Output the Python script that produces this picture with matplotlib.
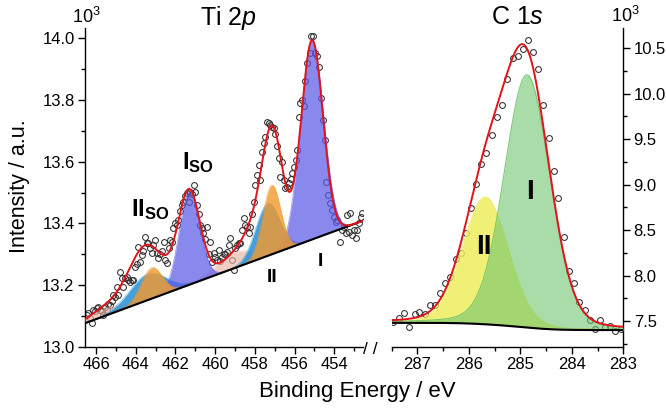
import numpy as np
import matplotlib
matplotlib.use('Agg')
import matplotlib.pyplot as plt
from matplotlib.ticker import MultipleLocator, FormatStrFormatter

plt.rcParams['font.family'] = ['Liberation Sans', 'DejaVu Sans']
plt.rcParams['mathtext.fontset'] = 'custom'
plt.rcParams['mathtext.rm'] = 'Liberation Sans'
plt.rcParams['mathtext.it'] = 'Liberation Sans:italic'
plt.rcParams['mathtext.bf'] = 'Liberation Sans:bold'

# ---------------- Ti 2p data (x: binding energy eV, y: intensity x10^3) ----------------
ti_x = [466.47, 466.39, 466.30, 466.22, 466.14, 466.05, 465.97, 465.89, 465.80, 465.72,
        465.64, 465.55, 465.46, 465.38, 465.30, 465.21, 465.13, 465.04, 464.96, 464.88,
        464.79, 464.71, 464.63, 464.54, 464.45, 464.37, 464.29, 464.20, 464.12, 464.03,
        463.95, 463.87, 463.78, 463.70, 463.62, 463.53, 463.45, 463.36, 463.28, 463.19,
        463.11, 463.03, 462.94, 462.86, 462.77, 462.69, 462.60, 462.52, 462.44, 462.35,
        462.27, 462.18, 462.10, 462.01, 461.93, 461.85, 461.76, 461.68, 461.60, 461.51,
        461.42, 461.34, 461.26, 461.17, 461.09, 461.00, 460.92, 460.84, 460.75, 460.67,
        460.59, 460.50, 460.41, 460.33, 460.25, 460.16, 460.08, 459.99, 459.91, 459.83,
        459.74, 459.66, 459.57, 459.49, 459.40, 459.32, 459.24, 459.15, 459.07, 458.98,
        458.90, 458.82, 458.73, 458.65, 458.57, 458.48, 458.40, 458.31, 458.23, 458.14,
        458.06, 457.97, 457.89, 457.80, 457.72, 457.63, 457.55, 457.47, 457.38, 457.30,
        457.22, 457.13, 457.05, 456.96, 456.88, 456.80, 456.71, 456.63, 456.54, 456.46,
        456.37, 456.29, 456.20, 456.12, 456.04, 455.95, 455.87, 455.79, 455.70, 455.62,
        455.53, 455.45, 455.36, 455.23, 455.16, 455.07, 454.98, 454.88, 454.78, 454.68,
        454.57, 454.48, 454.39, 454.30, 454.22, 454.10, 454.01, 453.93, 453.85, 453.72,
        453.63, 453.51, 453.42, 453.34, 453.26, 453.18, 453.09, 453.01, 452.92, 452.84,
        452.76, 452.67, 452.59]
ti_y = [13.105, 13.110, 13.095, 13.077, 13.120, 13.115, 13.125, 13.131, 13.120, 13.115,
        13.104, 13.128, 13.120, 13.140, 13.136, 13.150, 13.170, 13.163, 13.195, 13.168,
        13.244, 13.222, 13.195, 13.222, 13.228, 13.217, 13.210, 13.217, 13.217, 13.260,
        13.270, 13.325, 13.276, 13.298, 13.310, 13.357, 13.336, 13.336, 13.320, 13.304,
        13.330, 13.347, 13.304, 13.287, 13.300, 13.310, 13.341, 13.282, 13.271, 13.320,
        13.347, 13.340, 13.385, 13.400, 13.395, 13.410, 13.440, 13.460, 13.470, 13.490,
        13.498, 13.471, 13.503, 13.495, 13.525, 13.503, 13.460, 13.430, 13.395, 13.384,
        13.368, 13.350, 13.390, 13.300, 13.341, 13.276, 13.304, 13.290, 13.282, 13.314,
        13.280, 13.290, 13.300, 13.300, 13.309, 13.330, 13.352, 13.282, 13.250, 13.320,
        13.330, 13.336, 13.336, 13.380, 13.417, 13.395, 13.390, 13.368, 13.390, 13.430,
        13.470, 13.525, 13.557, 13.590, 13.541, 13.630, 13.660, 13.681, 13.730, 13.725,
        13.719, 13.714, 13.708, 13.690, 13.650, 13.611, 13.552, 13.600, 13.540, 13.514,
        13.519, 13.530, 13.545, 13.562, 13.584, 13.606, 13.638, 13.746, 13.790, 13.800,
        13.780, 13.860, 13.919, 13.951, 14.007, 14.007, 13.951, 13.943, 13.908, 13.806,
        13.735, 13.670, 13.535, 13.492, 13.466, 13.444, 13.420, 13.406, 13.410, 13.341,
        13.380, 13.390, 13.370, 13.428, 13.373, 13.433, 13.363, 13.379, 13.352, 13.380,
        13.400, 13.420, 13.433]

# linear background end points
ti_bg_x = [466.56, 452.55]
ti_bg_y = [13.077, 13.409]

# fitted components: centre, height above background, sigma
ti_comp_names   = ['sat_so', 'sat', 'II_so_b', 'II_b', 'I_so', 'I', 'II_so', 'II']
ti_comp_centre  = [465.6, 459.0, 463.4, 457.35, 461.30, 455.12, 463.20, 457.15]
ti_comp_height  = [0.025, 0.050, 0.085, 0.170, 0.300, 0.645, 0.100, 0.224]
ti_comp_sigma   = [0.80, 0.90, 0.90, 0.60, 0.52, 0.58, 0.53, 0.45]
ti_comp_color   = ['#e8b4a4', '#e8b4a4', '#2f95d6', '#2f95d6', '#5a5ae6', '#5a5ae6', '#f29a30', '#f29a30']

# envelope (fit sum) peaks
ti_env_centre = [455.12, 457.10, 457.60, 459.00, 461.32, 463.50, 465.60]
ti_env_height = [0.645, 0.310, 0.120, 0.035, 0.300, 0.180, 0.025]
ti_env_sigma  = [0.55, 0.50, 0.80, 1.00, 0.55, 0.88, 0.80]

# ---------------- C 1s data ----------------
c_x = [287.47, 287.36, 287.27, 287.16, 287.05, 286.96, 286.86, 286.76, 286.66, 286.57,
       286.46, 286.37, 286.26, 286.16, 286.06, 285.96, 285.86, 285.76, 285.66, 285.55,
       285.45, 285.35, 285.26, 285.15, 285.05, 284.95, 284.86, 284.75, 284.65, 284.56,
       284.45, 284.35, 284.26, 284.15, 284.06, 283.95, 283.86, 283.75, 283.65, 283.55,
       283.45, 283.36, 283.26, 283.17, 283.05]
c_y = [7.492, 7.530, 7.590, 7.430, 7.577, 7.602, 7.574, 7.673, 7.676, 7.812,
       7.915, 7.988, 8.183, 8.246, 8.473, 8.748, 9.003, 9.230, 9.350, 9.541,
       9.739, 9.879, 10.162, 10.393, 10.410, 10.495, 10.595, 10.455, 10.272, 9.879,
       9.512, 9.155, 8.851, 8.428, 8.050, 7.920, 7.713, 7.621, 7.511, 7.409,
       7.511, 7.437, 7.445, 7.393, 7.409]

# components: centre, height, FWHM, Lorentzian fraction
c_comp_names  = ['II', 'I']
c_comp_centre = [285.68, 284.87]
c_comp_height = [1.40, 2.78]
c_comp_fwhm   = [1.05, 1.05]
c_comp_eta    = [0.12, 0.15]
c_comp_color  = ['#eeee5e', '#6cc46c']
c_comp_alpha  = [0.85, 0.58]
c_bg_high = 7.48   # background level on high-BE side
c_bg_low = 7.40    # background level on low-BE side


def gauss(x, c, h, s):
    return h * np.exp(-(x - c) ** 2 / (2 * s * s))


def pvoigt(x, c, h, f, eta):
    u = (x - c) / f
    return h * (eta / (1 + 4 * u * u) + (1 - eta) * np.exp(-4 * np.log(2) * u * u))


fig = plt.figure(figsize=(6.66, 4.08), dpi=100)
W, H = 666.0, 408.0
axL = fig.add_axes([85 / W, 1 - 347 / H, 278 / W, (347 - 28.3) / H])
axR = fig.add_axes([391.7 / W, 1 - 347 / H, 231.6 / W, (347 - 28.3) / H])

# ---------------- left panel ----------------
xl = np.linspace(ti_bg_x[0], ti_bg_x[1], 800)
bg = ti_bg_y[0] + (xl - ti_bg_x[0]) * (ti_bg_y[1] - ti_bg_y[0]) / (ti_bg_x[1] - ti_bg_x[0])

axL.plot(ti_x, ti_y, 'o', mfc='none', mec='#303030', ms=4.2, mew=0.75, zorder=2)
alphas = {'#e8b4a4': 0.65, '#2f95d6': 0.9, '#5a5ae6': 0.72, '#f29a30': 0.82}
for c, h, s, col in zip(ti_comp_centre, ti_comp_height, ti_comp_sigma, ti_comp_color):
    comp = gauss(xl, c, h, s)
    axL.fill_between(xl, bg, bg + comp, color=col, alpha=alphas[col], lw=0, zorder=3)
    axL.plot(xl, bg + comp, color=col, lw=0.6, alpha=0.6, zorder=3)
env = bg.copy()
for c, h, s in zip(ti_env_centre, ti_env_height, ti_env_sigma):
    env = env + gauss(xl, c, h, s)
axL.plot(xl, bg, color='black', lw=1.5, zorder=4)
axL.plot(xl, env, color='#e3121b', lw=1.4, zorder=5)

axL.set_xlim(ti_bg_x[0], ti_bg_x[1])
axL.set_ylim(13.0, 14.032)
axL.xaxis.set_major_locator(MultipleLocator(2))
axL.xaxis.set_minor_locator(MultipleLocator(1))
axL.yaxis.set_major_locator(MultipleLocator(0.2))
axL.yaxis.set_minor_locator(MultipleLocator(0.1))
axL.xaxis.set_major_formatter(FormatStrFormatter('%d'))
axL.yaxis.set_major_formatter(FormatStrFormatter('%.1f'))
for sp in ['top', 'right']:
    axL.spines[sp].set_visible(False)

# ---------------- right panel ----------------
xr = np.linspace(287.5, 283.0, 600)
comps = []
for c, h, f, e in zip(c_comp_centre, c_comp_height, c_comp_fwhm, c_comp_eta):
    comps.append(pvoigt(xr, c, h, f, e))
tot = np.sum(comps, axis=0)
# Shirley-type background: proportional to peak area on the low-BE side
cum = np.concatenate([[0], np.cumsum((tot[1:] + tot[:-1]) / 2 * np.abs(np.diff(xr)))])
area_low = cum[-1] - cum
bgr = c_bg_low + (c_bg_high - c_bg_low) * area_low / cum[-1]

axR.plot(c_x, c_y, 'o', mfc='none', mec='#303030', ms=4.2, mew=0.75, zorder=2)
for comp, col, a in zip(comps, c_comp_color, c_comp_alpha):
    axR.fill_between(xr, bgr, bgr + comp, color=col, alpha=a, lw=0, zorder=3)
    axR.plot(xr, bgr + comp, color=col, lw=0.8, alpha=0.9, zorder=3)
axR.plot(xr, bgr, color='black', lw=1.5, zorder=4)
axR.plot(xr, bgr + tot, color='#e3121b', lw=1.4, zorder=5)

axR.set_xlim(287.5, 283.0)
axR.set_ylim(7.214, 10.72)
axR.xaxis.set_major_locator(MultipleLocator(1))
axR.xaxis.set_minor_locator(MultipleLocator(0.5))
axR.yaxis.set_major_locator(MultipleLocator(0.5))
axR.yaxis.set_minor_locator(MultipleLocator(0.25))
axR.xaxis.set_major_formatter(FormatStrFormatter('%d'))
axR.yaxis.set_major_formatter(FormatStrFormatter('%.1f'))
axR.yaxis.tick_right()
for sp in ['top', 'left']:
    axR.spines[sp].set_visible(False)

for ax in (axL, axR):
    ax.patch.set_alpha(0)
    for sp in ax.spines.values():
        sp.set_linewidth(1.0)
    ax.tick_params(which='major', length=5, width=1.0, labelsize=12, direction='out', pad=2.5)
    ax.tick_params(which='minor', length=3, width=1.0, direction='out')

# ---------------- text ----------------
def ftext(x, y, s, **kw):
    fig.text(x / W, 1 - y / H, s, **kw)

ftext(228, 18, r'Ti $\mathit{2p}$', ha='center', va='center', fontsize=18)
ftext(517, 17, r'C $\mathit{1s}$', ha='center', va='center', fontsize=18)
ftext(86, 17, r'$10^3$', ha='center', va='center', fontsize=13)
ftext(625, 16, r'$10^3$', ha='center', va='center', fontsize=13)
ftext(20, 186, 'Intensity / a.u.', ha='center', va='center', rotation=90, fontsize=15.5)
ftext(357, 391, 'Binding Energy / eV', ha='center', va='center', fontsize=16)
ftext(370, 350, '/ /', ha='center', va='center', fontsize=12.5)

ftext(198, 163, r'$\mathbf{I}_{\mathbf{SO}}$', ha='center', va='center', fontsize=17)
ftext(150, 210, r'$\mathbf{II}_{\mathbf{SO}}$', ha='center', va='center', fontsize=17)
ftext(272, 278, 'II', ha='center', va='center', fontsize=14, fontweight='bold')
ftext(320, 261, 'I', ha='center', va='center', fontsize=14, fontweight='bold')
ftext(530, 192, 'I', ha='center', va='center', fontsize=20, fontweight='bold')
ftext(484, 247, 'II', ha='center', va='center', fontsize=20, fontweight='bold')

fig.savefig('out.png', dpi=100)
